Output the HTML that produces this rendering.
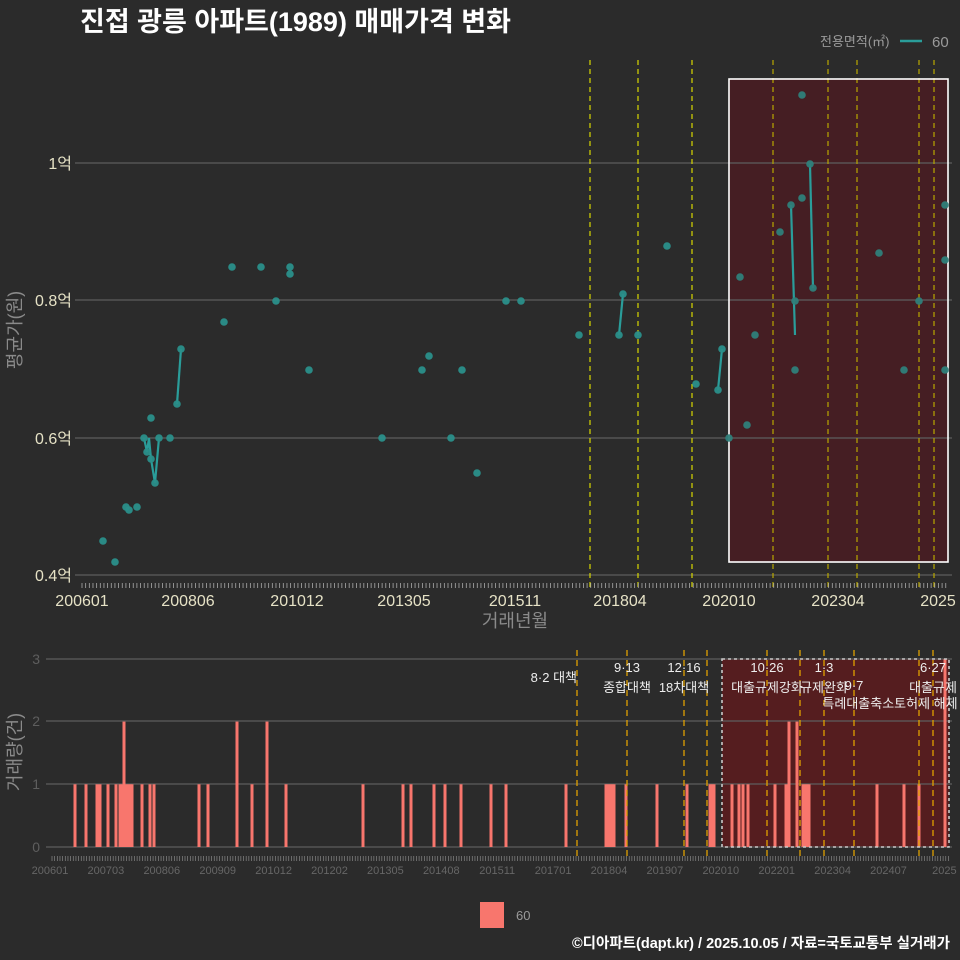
<!DOCTYPE html>
<html><head><meta charset="utf-8"><style>
html,body{margin:0;padding:0;background:#2b2b2b;}
svg{display:block;font-family:"Liberation Sans","Noto Sans CJK KR",sans-serif;}
</style></head><body>
<svg id="s" width="960" height="960" viewBox="0 0 960 960" xmlns="http://www.w3.org/2000/svg">
<rect width="960" height="960" fill="#2b2b2b"/>
<text x="80" y="31" font-size="27" font-weight="bold" fill="#ffffff">진접 광릉 아파트(1989) 매매가격 변화</text>
<text x="820" y="46" font-size="13" fill="#9a9a9a">전용면적(㎡)</text>
<line x1="900" y1="41" x2="922" y2="41" stroke="#2a9d9a" stroke-width="2.5"/>
<text x="932" y="47" font-size="15" fill="#9a9a9a">60</text>
<g id="top"></g>
<g id="bot"></g>
<text x="15" y="330" font-size="18" fill="#8a8a8a" text-anchor="middle" transform="rotate(-90 15 330)" dy="6">평균가(원)</text>
<text x="515" y="627" font-size="18" fill="#8a8a8a" text-anchor="middle">거래년월</text>
<text x="15" y="752" font-size="18" fill="#8a8a8a" text-anchor="middle" transform="rotate(-90 15 752)" dy="6">거래량(건)</text>
<rect x="480" y="902" width="24" height="26" fill="#f8766d"/>
<text x="516" y="920" font-size="13" fill="#9a9a9a">60</text>
<text x="950" y="948" font-size="14.5" font-weight="bold" fill="#ffffff" text-anchor="end">©디아파트(dapt.kr) / 2025.10.05 / 자료=국토교통부 실거래가</text>
</svg>
<script>
const NS="http://www.w3.org/2000/svg";
function el(p,t,a,txt){const e=document.createElementNS(NS,t);for(const k in a)e.setAttribute(k,a[k]);if(txt!==undefined)e.textContent=txt;p.appendChild(e);return e;}
const T=document.getElementById('top'),B=document.getElementById('bot');
el(T,'rect',{x:729,y:79,width:219,height:483,fill:'#4a1c22',opacity:0.85});
[[163,'1억'],[300,'0.8억'],[438,'0.6억'],[575,'0.4억']].forEach(([y,l])=>{
 el(T,'line',{x1:75,y1:y,x2:952,y2:y,stroke:'#5e5e5e','stroke-width':1.2});
 el(T,'text',{x:72,y:y+6,'font-size':16,fill:'#e6e2c6','text-anchor':'end'},l);
});
[590,638,692,773,828,857,919,934].forEach((x,i)=>{
 el(T,'line',{x1:x,y1:60,x2:x,y2:590,stroke:(x>729?'#b8a800':'#d8d800'),'stroke-width':1.2,'stroke-dasharray':'5,4'});
});
el(T,'rect',{x:729,y:79,width:219,height:483,fill:'none',stroke:'#ffffff','stroke-width':1.6});
for(let x=82;x<=948;x+=3.66) el(T,'line',{x1:x,y1:583,x2:x,y2:588,stroke:'#aaaaaa','stroke-width':0.8});
[[82,'200601'],[188,'200806'],[297,'201012'],[404,'201305'],[515,'201511'],[620,'201804'],[729,'202010'],[838,'202304'],[938,'2025']].forEach(([x,l])=>
 el(T,'text',{x:x,y:606,'font-size':16,fill:'#e6e2c6','text-anchor':'middle'},l));
const lc='#2a9d9a';
const lines=[[[144,438],[147,452],[149,438],[151,459],[155,483],[159,438]],[[177,404],[181,349]],[[619,335],[623,294]],[[718,390],[722,349]],[[791,205],[795,335]],[[810,164],[813,288]]];
lines.forEach(p=>el(T,'polyline',{points:p.map(q=>q.join(',')).join(' '),fill:'none',stroke:lc,'stroke-width':2.2}));
const pts=[[103,541],[115,562],[126,507],[129,510],[137,507],[144,438],[147,452],[151,418],[151,459],[155,483],[159,438],[170,438],[177,404],[181,349],[224,322],[232,267],[261,267],[276,301],[290,267],[290,274],[309,370],[382,438],[422,370],[429,356],[451,438],[462,370],[477,473],
[506,301],[521,301],[579,335],[619,335],[623,294],[638,335],[667,246],[696,384],[718,390],[722,349],[729,438],[740,277],[747,425],[755,335],[780,232],[791,205],[795,301],[795,370],[802,95],[802,198],[810,164],[813,288],[879,253],[904,370],[919,301],[945,205],[945,260],[945,370]];
pts.forEach(([x,y])=>{el(T,'circle',{cx:x,cy:y,r:3.8,fill:(x>=729?'#2f7f7a':'#2a8f8a'),opacity:0.95});});
el(B,'rect',{x:722,y:659,width:227,height:188,fill:'#5a1c1e',opacity:0.9});
[[659,'3'],[721,'2'],[784,'1'],[847,'0']].forEach(([y,l])=>{
 el(B,'line',{x1:46,y1:y,x2:952,y2:y,stroke:'#5e5e5e','stroke-width':1.2});
 el(B,'text',{x:40,y:y+5,'font-size':14,fill:'#5e5e5e','text-anchor':'end'},l);
});
const bars=[75,86,97,100,108,116,120,122,124,126,128,130,132,142,150,154,199,208,237,252,267,286,363,403,411,434,445,461,491,506,566,606,608,610,612,614,626,657,687,710,712,714,732,739,743,748,775,786,789,797,803,805,807,809,877,904,919,945];
const two=[124,237,267,789,797];
bars.forEach(x=>{const v=two.includes(x)?2:(x==945?3:1);const h=v*62.7;el(B,'rect',{x:x-1.5,y:847-h,width:3,height:h,fill:'#f8766d'});});
[577,627,684,707,767,800,824,854,919,933].forEach(x=>el(B,'line',{x1:x,y1:650,x2:x,y2:858,stroke:'#e0a000','stroke-width':1.3,'stroke-dasharray':'6,4'}));
el(B,'rect',{x:722,y:659,width:227,height:188,fill:'none',stroke:'#c8c8c8','stroke-width':1.6,'stroke-dasharray':'3,3'});
for(let x=52;x<=950;x+=2.66) el(B,'line',{x1:x,y1:856,x2:x,y2:861,stroke:'#888','stroke-width':0.7});
const bl=['200601','200703','200806','200909','201012','201202','201305','201408','201511','201701','201804','201907','202010','202201','202304','202407','2025'];
bl.forEach((l,i)=>el(B,'text',{x:50+i*55.9,y:874,'font-size':11,fill:'#666','text-anchor':'middle'},l));
const ann=[[577,682,'8·2 대책','end'],[627,672,'9·13','middle'],[627,692,'종합대책','middle'],[684,672,'12·16','middle'],[684,692,'18차대책','middle'],[767,672,'10·26','middle'],[767,692,'대출규제강화','middle'],[824,672,'1·3','middle'],[824,692,'규제완화','middle'],[854,690,'9·7','middle'],[890,708,'특례대출축소토허제 해제','middle'],[933,672,'6·27','middle'],[933,692,'대출규제','middle']];
ann.forEach(([x,y,t,a])=>el(B,'text',{x:x,y:y,'font-size':13,fill:'#eeeeee','text-anchor':a},t));
</script>
</body></html>
